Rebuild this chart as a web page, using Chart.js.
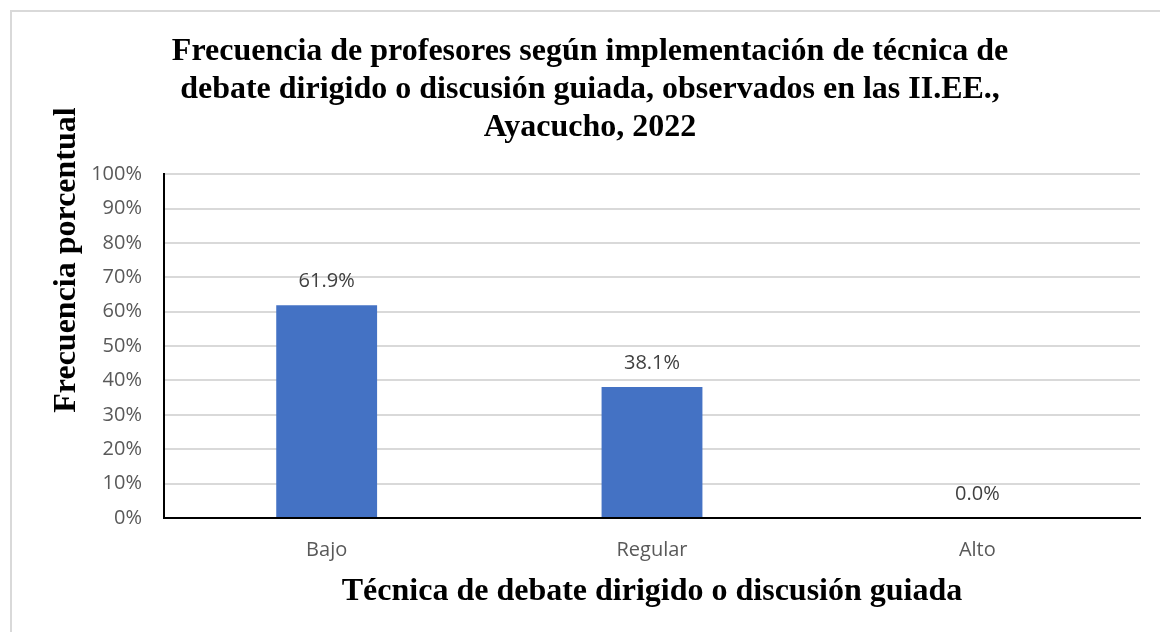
<!DOCTYPE html>
<html>
<head>
<meta charset="utf-8">
<script src="https://cdn.jsdelivr.net/npm/chart.js@4/dist/chart.umd.min.js"></script>
<style>
  html, body { margin: 0; padding: 0; background: #fff; }
  #wrap { width: 1160px; height: 632px; position: relative; }
</style>
</head>
<body>
<div id="wrap"><canvas id="debateChart"></canvas></div>
<script>
// data
const categories = ["Bajo", "Regular", "Alto"];
const percentages = [61.9, 38.1, 0.0];
const tickValues = [0, 10, 20, 30, 40, 50, 60, 70, 80, 90, 100];

const titleLines = [
    "Frecuencia de profesores según implementación de técnica de",
    "debate dirigido o discusión guiada, observados en las II.EE.,",
    "Ayacucho, 2022"
];
const yTitle = "Frecuencia porcentual";
const xTitle = "Técnica de debate dirigido o discusión guiada";

const serif = "'Liberation Serif', 'Times New Roman', serif";
const sans = "'Open Sans', 'Noto Sans', sans-serif";

// light grey frame around the whole figure
const framePlugin = {
    id: "frame",
    beforeDraw(chart) {
        const ctx = chart.ctx;
        ctx.save();
        ctx.fillStyle = "#ffffff";
        ctx.fillRect(0, 0, chart.width, chart.height);
        ctx.strokeStyle = "#d9d9d9";
        ctx.lineWidth = 2;
        ctx.strokeRect(11, 11, chart.width + 20, chart.height + 20);
        ctx.restore();
    }
};

// axis titles drawn by hand so they sit where the original has them
const axisTitlePlugin = {
    id: "axisTitles",
    afterDraw(chart) {
        const ctx = chart.ctx;
        const area = chart.chartArea;
        ctx.save();
        ctx.font = "bold 32px " + serif;
        ctx.fillStyle = "#000";
        ctx.textAlign = "center";
        ctx.textBaseline = "middle";
        ctx.fillText(xTitle, (area.left + area.right) / 2, 592);
        ctx.translate(67, 260);
        ctx.rotate(-Math.PI / 2);
        ctx.fillText(yTitle, 0, 0);
        ctx.restore();
    }
};

// value labels above each bar
const barLabelPlugin = {
    id: "barLabels",
    afterDatasetsDraw(chart) {
        const ctx = chart.ctx;
        const meta = chart.getDatasetMeta(0);
        ctx.save();
        ctx.font = "20px " + sans;
        ctx.fillStyle = "#404040";
        ctx.textAlign = "center";
        ctx.textBaseline = "middle";
        meta.data.forEach((bar, i) => {
            ctx.fillText(percentages[i].toFixed(1) + "%", bar.x, bar.y - 24);
        });
        ctx.restore();
    }
};

const ctx = document.getElementById("debateChart").getContext("2d");
const debateChart = new Chart(ctx, {
    type: "bar",
    data: {
        labels: categories,
        datasets: [{
            data: percentages,
            backgroundColor: "#4472c4",
            borderWidth: 0,
            barPercentage: 1,
            categoryPercentage: 0.31
        }]
    },
    options: {
        responsive: true,
        maintainAspectRatio: false,
        animation: false,
        layout: { padding: { left: 40, right: 20, top: 0, bottom: 67 } },
        scales: {
            y: {
                min: 0,
                max: 100,
                afterFit(scale) { scale.width = 124; },
                afterBuildTicks(scale) {
                    scale.ticks = tickValues.map(v => ({ value: v }));
                },
                ticks: {
                    color: "#595959",
                    font: { family: sans, size: 20 },
                    padding: 22,
                    callback: v => v + "%"
                },
                grid: { color: "#d9d9d9", lineWidth: 2, drawTicks: false },
                border: { color: "#000", width: 2 }
            },
            x: {
                afterFit(scale) { scale.height = 47; },
                ticks: {
                    color: "#595959",
                    font: { family: sans, size: 20 },
                    padding: 20
                },
                grid: { display: false, drawTicks: false },
                border: { color: "#000", width: 2 }
            }
        },
        plugins: {
            legend: { display: false },
            tooltip: { enabled: false },
            title: {
                display: true,
                text: titleLines,
                color: "#000",
                font: { family: serif, size: 32, weight: "bold", lineHeight: 1.19 },
                padding: { top: 33, bottom: 27 }
            }
        }
    },
    plugins: [framePlugin, axisTitlePlugin, barLabelPlugin]
});
</script>
</body>
</html>
